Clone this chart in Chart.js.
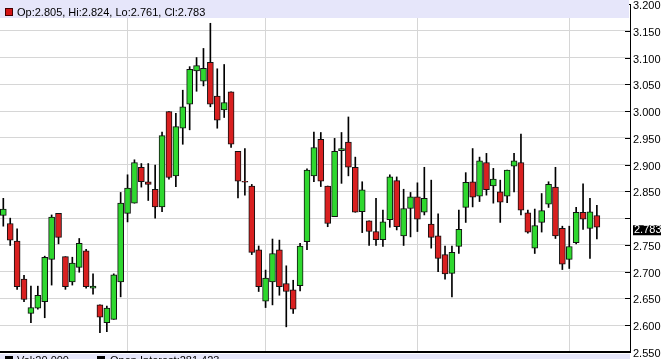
<!DOCTYPE html>
<html><head><meta charset="utf-8">
<script src="https://cdn.jsdelivr.net/npm/chart.js@4.4.0/dist/chart.umd.min.js"></script>
<style>html,body{margin:0;padding:0;background:#fff;overflow:hidden}canvas{display:block}</style>
</head><body>
<canvas id="c" width="661" height="359"></canvas>
<script>
// Daily OHLC sessions, oldest first
const opens  = [2.805,2.790,2.757,2.686,2.622,2.632,2.644,2.723,2.809,2.728,2.681,2.708,2.739,2.669,2.638,2.605,2.611,2.681,2.809,2.828,2.895,2.868,2.854,2.821,2.999,2.879,2.968,3.013,3.075,3.056,3.091,3.028,3.002,3.036,2.925,2.869,2.860,2.741,2.645,2.681,2.741,2.678,2.666,2.674,2.756,2.879,2.947,2.860,2.803,2.926,2.942,2.895,2.812,2.795,2.775,2.760,2.797,2.870,2.767,2.818,2.840,2.811,2.789,2.767,2.732,2.697,2.747,2.820,2.868,2.841,2.904,2.860,2.849,2.841,2.897,2.904,2.810,2.744,2.792,2.826,2.858,2.781,2.723,2.754,2.811,2.781,2.805];
const highs  = [2.837,2.800,2.780,2.693,2.673,2.673,2.729,2.806,2.809,2.728,2.727,2.762,2.742,2.696,2.638,2.636,2.696,2.848,2.881,2.909,2.902,2.902,2.899,2.961,2.999,2.996,3.039,3.083,3.100,3.117,3.164,3.079,3.087,3.036,2.925,2.930,2.863,2.748,2.703,2.761,2.759,2.711,2.684,2.753,2.892,2.961,2.960,2.860,2.949,2.960,2.989,2.914,2.868,2.795,2.837,2.815,2.881,2.877,2.854,2.848,2.866,2.895,2.871,2.808,2.748,2.748,2.815,2.885,2.930,2.914,2.921,2.893,2.871,2.890,2.921,2.957,2.815,2.817,2.846,2.868,2.895,2.785,2.785,2.820,2.864,2.837,2.824];
const lows   = [2.785,2.749,2.667,2.644,2.605,2.630,2.614,2.675,2.752,2.667,2.675,2.699,2.669,2.658,2.586,2.588,2.611,2.653,2.793,2.828,2.858,2.833,2.800,2.812,2.873,2.859,2.938,2.965,3.037,3.047,3.008,2.968,2.988,2.932,2.838,2.843,2.732,2.663,2.633,2.638,2.656,2.597,2.622,2.664,2.741,2.868,2.859,2.784,2.803,2.865,2.879,2.811,2.773,2.749,2.749,2.747,2.783,2.778,2.749,2.765,2.775,2.806,2.744,2.700,2.686,2.653,2.734,2.792,2.821,2.831,2.843,2.828,2.792,2.829,2.849,2.806,2.772,2.734,2.774,2.820,2.762,2.704,2.706,2.752,2.779,2.725,2.761];
const closes = [2.817,2.759,2.672,2.648,2.633,2.656,2.727,2.802,2.764,2.672,2.716,2.753,2.672,2.673,2.615,2.632,2.694,2.828,2.856,2.904,2.868,2.863,2.821,2.954,2.876,2.971,3.008,3.078,3.085,3.080,3.013,2.983,3.016,2.938,2.869,2.867,2.736,2.672,2.688,2.734,2.672,2.663,2.630,2.748,2.890,2.932,2.869,2.790,2.925,2.930,2.895,2.811,2.853,2.775,2.760,2.793,2.877,2.784,2.818,2.840,2.798,2.837,2.764,2.725,2.696,2.736,2.779,2.867,2.839,2.907,2.853,2.873,2.830,2.890,2.907,2.815,2.774,2.786,2.814,2.863,2.767,2.714,2.747,2.811,2.798,2.812,2.783];
// sessions where a new month starts (vertical grid lines)
const monthStarts = [18, 38, 60, 82];
const yMin = 2.55, yMax = 3.20, yStep = 0.05;
const footerItems = ['Vol:20,000', 'Open Interest:281,423'];

const GREEN = '#2fd82f', RED = '#d92020';
const FONT = '"Liberation Sans", Arial, sans-serif';
const last = closes.length - 1;
const headerText = 'Op:' + opens[last].toFixed(3) + ', Hi:' + highs[last].toFixed(3) +
  ', Lo:' + lows[last].toFixed(3) + ', Cl:' + closes[last].toFixed(3);

const idx = opens.map((_, i) => i);
const wickData = idx.map(i => ({x: i, y: [lows[i], highs[i]]}));
const bodyData = idx.map(i => ({x: i, y: [Math.min(opens[i], closes[i]), Math.max(opens[i], closes[i])]}));
const bodyColors = idx.map(i => closes[i] >= opens[i] ? GREEN : RED);

const overlay = {
  id: 'overlay',
  afterDraw(chart) {
    const ctx = chart.ctx, ca = chart.chartArea, ys = chart.scales.y;
    ctx.save();
    // inner tick marks on the right axis
    ctx.strokeStyle = '#000'; ctx.lineWidth = 1;
    ys.ticks.forEach(t => {
      const py = Math.round(ys.getPixelForValue(t.value)) + 0.5;
      ctx.beginPath(); ctx.moveTo(ca.right - 5, py); ctx.lineTo(ca.right, py); ctx.stroke();
    });
    // header bar
    ctx.fillStyle = '#e6e6fa';
    ctx.fillRect(0, 0, ca.right - 1, 18);
    ctx.fillStyle = '#d41414';
    ctx.fillRect(5, 8, 8, 8);
    ctx.strokeStyle = '#400'; ctx.strokeRect(5.5, 8.5, 7, 7);
    ctx.fillStyle = '#000';
    ctx.font = '11px ' + FONT;
    ctx.textBaseline = 'middle';
    ctx.fillText(headerText, 17, 12.5);
    // footer bar
    ctx.fillStyle = '#e6e6fa';
    ctx.fillRect(0, 354, ca.right, 5);
    ctx.fillStyle = '#000';
    ctx.fillRect(5, 356, 8, 8);
    ctx.fillRect(97, 356, 8, 8);
    ctx.textBaseline = 'top';
    ctx.fillText(footerItems[0], 17, 355);
    ctx.fillText(footerItems[1], 110, 355);
    // last price box
    const py = ys.getPixelForValue(closes[last]);
    ctx.fillStyle = '#000';
    ctx.fillRect(633, py - 2, 28, 10);
    ctx.fillStyle = '#fff';
    ctx.textBaseline = 'middle';
    ctx.fillText(closes[last].toFixed(3), 634, py + 3);
    ctx.restore();
  }
};

new Chart(document.getElementById('c'), {
  type: 'bar',
  data: {
    datasets: [
      {data: wickData, backgroundColor: '#000', borderWidth: 0, barThickness: 1, grouped: false, order: 2},
      {data: bodyData, backgroundColor: bodyColors, borderColor: '#111', borderWidth: 1, borderSkipped: false, barThickness: 6, grouped: false, order: 1}
    ]
  },
  options: {
    responsive: false, animation: false, events: [],
    layout: {padding: {top: 4, bottom: 7, left: 0, right: 0}},
    plugins: {legend: {display: false}, tooltip: {enabled: false}},
    scales: {
      x: {
        type: 'linear', min: -0.48, max: 90.8, offset: false,
        afterBuildTicks: s => { s.ticks = monthStarts.map(v => ({value: v})); },
        afterFit: s => { s.height = 0; s.paddingLeft = 0; s.paddingRight = 0; },
        ticks: {display: false},
        grid: {color: '#d6d6d6', drawTicks: false, offset: false},
        border: {display: true, color: '#000', width: 2}
      },
      y: {
        position: 'right', min: yMin, max: yMax,
        afterFit: s => { s.width = 31; s.paddingTop = 0; s.paddingBottom = 0; },
        ticks: {
          stepSize: yStep, padding: 3, color: '#000', labelOffset: 2,
          font: {family: FONT, size: 11},
          callback: v => Math.abs(v - closes[last]) < 0.025 ? '' : Number(v).toFixed(3)
        },
        grid: {color: '#d6d6d6', drawTicks: false},
        border: {display: true, color: '#000', width: 1}
      }
    }
  },
  plugins: [overlay]
});
</script>
</body></html>
